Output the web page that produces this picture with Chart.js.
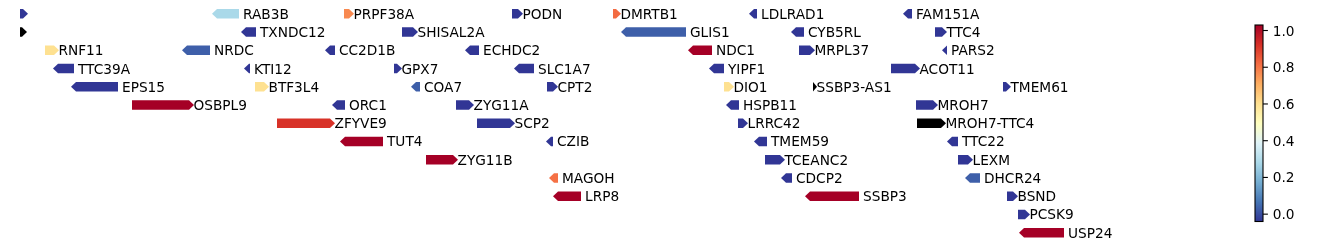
<!DOCTYPE html>
<html><head><meta charset="utf-8">
<script src="https://cdn.jsdelivr.net/npm/chart.js@4.4.1/dist/chart.umd.min.js"></script>
<style>html,body{margin:0;padding:0;background:#fff;overflow:hidden}</style>
</head><body><canvas id="c" width="1338" height="246"></canvas>
<script>
// ---- data ----
const ROW_LABELS = ['1','2','3','4','5','6','7','8','9','10','11','12','13'];
const GENE_NAMES = [
 '', 'RAB3B', 'PRPF38A', 'PODN', 'DMRTB1', 'LDLRAD1', 'FAM151A',
 '', 'TXNDC12', 'SHISAL2A', 'GLIS1', 'CYB5RL', 'TTC4',
 'RNF11', 'NRDC', 'CC2D1B', 'ECHDC2', 'NDC1', 'MRPL37', 'PARS2',
 'TTC39A', 'KTI12', 'GPX7', 'SLC1A7', 'YIPF1', 'ACOT11',
 'EPS15', 'BTF3L4', 'COA7', 'CPT2', 'DIO1', 'SSBP3-AS1', 'TMEM61',
 'OSBPL9', 'ORC1', 'ZYG11A', 'HSPB11', 'MROH7',
 'ZFYVE9', 'SCP2', 'LRRC42', 'MROH7-TTC4',
 'TUT4', 'CZIB', 'TMEM59', 'TTC22',
 'ZYG11B', 'TCEANC2', 'LEXM',
 'MAGOH', 'CDCP2', 'DHCR24',
 'LRP8', 'SSBP3', 'BSND',
 'PCSK9',
 'USP24'
];
const GENE_ROWS = [
 0,0,0,0,0,0,0,
 1,1,1,1,1,1,
 2,2,2,2,2,2,2,
 3,3,3,3,3,3,
 4,4,4,4,4,4,4,
 5,5,5,5,5,
 6,6,6,6,
 7,7,7,7,
 8,8,8,
 9,9,9,
 10,10,10,
 11,
 12
];
const GENE_STARTS = [
 20, 212, 344, 512, 613, 749, 903,
 20, 241, 402, 621, 791, 935,
 45, 182, 325, 465, 688, 799, 942,
 53, 244, 394, 514, 709, 891,
 71, 255, 411, 547, 724, 813, 1003,
 132, 332, 456, 726, 916,
 277, 477, 738, 917,
 340, 546, 754, 947,
 426, 765, 958,
 549, 781, 965,
 553, 805, 1007,
 1018,
 1019
];
const GENE_ENDS = [
 28, 239, 354, 523, 621, 757, 912,
 27, 256, 418, 686, 804, 947,
 59, 210, 335, 479, 712, 815, 947,
 74, 250, 402, 534, 724, 920,
 118, 269, 420, 558, 734, 817, 1011,
 194, 345, 474, 739, 938,
 335, 515, 748, 946,
 383, 553, 767, 958,
 458, 785, 973,
 558, 792, 980,
 581, 859, 1018,
 1030,
 1064
];
const GENE_STRANDS = [
 '+','-','+','+','+','-','-',
 '+','-','+','-','-','+',
 '+','-','-','-','-','+','-',
 '-','-','+','-','-','+',
 '-','+','-','+','+','+','+',
 '+','-','+','-','+',
 '+','+','+','+',
 '-','-','-','-',
 '+','+','+',
 '-','-','-',
 '-','-','+',
 '+',
 '-'
];
// null = no score (drawn black)
const GENE_SCORES = [
 -0.04, 0.28, 0.77, -0.04, 0.82, -0.04, -0.04,
 null, -0.04, -0.04, 0.03, -0.04, -0.04,
 0.60, 0.03, -0.04, -0.04, 1.03, -0.04, -0.04,
 -0.04, -0.04, -0.04, -0.04, -0.04, -0.04,
 -0.04, 0.60, 0.03, -0.04, 0.60, null, -0.04,
 1.03, -0.04, -0.04, -0.04, -0.04,
 0.92, -0.04, -0.04, null,
 1.03, -0.04, -0.04, -0.04,
 1.03, -0.04, -0.04,
 0.81, -0.04, 0.03,
 1.03, 1.03, -0.04,
 -0.04,
 1.03
];
const CB_MIN = -0.04, CB_MAX = 1.03;
const CB_TICKS = [0.0, 0.2, 0.4, 0.6, 0.8, 1.0];
const X_MIN = 0, X_MAX = 1263;

// ---- styling ----
const FONT_SIZE = 13.7;
const FONT = FONT_SIZE + 'px "DejaVu Sans"';
const HEAD_PX = 5;
const PAD_TOP = 4.7, PAD_BOTTOM = 4.2, PAD_RIGHT = 75, H = 246;
const CB_TOP_PX = 25, CB_BOTTOM_PX = 221.5, CB_WIDTH = 8;
const AREA_TOP = PAD_TOP, AREA_BOTTOM = H - PAD_BOTTOM;
const pxPerUnit = (CB_BOTTOM_PX - CB_TOP_PX) / (CB_MAX - CB_MIN);
const CB_SCALE_MAX = CB_MAX + (CB_TOP_PX - AREA_TOP) / pxPerUnit;
const CB_SCALE_MIN = CB_MIN - (AREA_BOTTOM - CB_BOTTOM_PX) / pxPerUnit;

const CMAP = ['#313695','#4575b4','#74add1','#abd9e9','#e0f3f8','#ffffbf','#fee090','#fdae61','#f46d43','#d73027','#a50026']
  .map(h => [parseInt(h.slice(1,3),16), parseInt(h.slice(3,5),16), parseInt(h.slice(5,7),16)]);
function cmap(v) {
  if (v === null || v === undefined) return '#000000';
  let t = (v - CB_MIN) / (CB_MAX - CB_MIN);
  t = Math.max(0, Math.min(1, t));
  const p = t * (CMAP.length - 1);
  const i = Math.min(Math.floor(p), CMAP.length - 2);
  const f = p - i;
  const c = CMAP[i].map((a, k) => Math.round(a + (CMAP[i+1][k] - a) * f));
  return `rgb(${c[0]},${c[1]},${c[2]})`;
}

const geneData = GENE_NAMES.map((n, i) => ({ x: [GENE_STARTS[i], GENE_ENDS[i]], y: ROW_LABELS[GENE_ROWS[i]] }));

const genePlugin = {
  id: 'genes',
  beforeDatasetDraw() { return false; },
  afterDatasetsDraw(chart) {
    const ctx = chart.ctx;
    const meta = chart.getDatasetMeta(0);
    ctx.save();
    meta.data.forEach((el, i) => {
      const { x, base, y, height } = el.getProps(['x', 'base', 'y', 'height'], true);
      const left = Math.min(x, base), right = Math.max(x, base);
      const h = height / 2, w = right - left, head = Math.min(HEAD_PX, w);
      ctx.fillStyle = el.options.backgroundColor;
      ctx.beginPath();
      if (GENE_STRANDS[i] === '+') {
        ctx.moveTo(left, y - h); ctx.lineTo(right - head, y - h); ctx.lineTo(right, y);
        ctx.lineTo(right - head, y + h); ctx.lineTo(left, y + h);
      } else {
        ctx.moveTo(right, y - h); ctx.lineTo(left + head, y - h); ctx.lineTo(left, y);
        ctx.lineTo(left + head, y + h); ctx.lineTo(right, y + h);
      }
      ctx.closePath(); ctx.fill();
      if (GENE_NAMES[i]) {
        ctx.fillStyle = '#000';
        ctx.font = FONT;
        ctx.textBaseline = 'alphabetic';
        ctx.textAlign = 'left';
        const tx = GENE_STRANDS[i] === '+' ? right - 0.5 : right + 4;
        ctx.fillText(GENE_NAMES[i], tx, y + 0.365 * FONT_SIZE);
      }
    });
    // colour bar, using the library's 'cb' scale for positions
    const cb = chart.scales.cb;
    const x1 = chart.chartArea.right, x0 = x1 - CB_WIDTH;
    const yTop = cb.getPixelForValue(CB_MAX), yBot = cb.getPixelForValue(CB_MIN);
    const g = ctx.createLinearGradient(0, yBot, 0, yTop);
    CMAP.forEach((c, k) => g.addColorStop(k / (CMAP.length - 1), `rgb(${c[0]},${c[1]},${c[2]})`));
    ctx.fillStyle = g;
    ctx.fillRect(x0, yTop, CB_WIDTH, yBot - yTop);
    ctx.strokeStyle = '#000'; ctx.lineWidth = 1.1;
    ctx.strokeRect(x0, yTop, CB_WIDTH, yBot - yTop);
    ctx.font = FONT; ctx.fillStyle = '#000';
    ctx.textAlign = 'left'; ctx.textBaseline = 'alphabetic';
    CB_TICKS.forEach(v => {
      const ty = cb.getPixelForValue(v);
      ctx.beginPath(); ctx.moveTo(x1, ty); ctx.lineTo(x1 + 4.9, ty); ctx.stroke();
      ctx.fillText(v.toFixed(1), x1 + 9.7, ty + 0.365 * FONT_SIZE);
    });
    ctx.restore();
  }
};

new Chart(document.getElementById('c'), {
  type: 'bar',
  data: {
    labels: ROW_LABELS,
    datasets: [{
      data: geneData,
      backgroundColor: ctx => cmap(GENE_SCORES[ctx.dataIndex]),
      barThickness: 9.6,
      borderWidth: 0
    }]
  },
  options: {
    indexAxis: 'y',
    responsive: false,
    animation: false,
    devicePixelRatio: 1,
    layout: { padding: { left: 0, right: PAD_RIGHT, top: PAD_TOP, bottom: PAD_BOTTOM } },
    plugins: { legend: { display: false }, tooltip: { enabled: false } },
    scales: {
      x: { type: 'linear', min: X_MIN, max: X_MAX, display: false },
      y: { type: 'category', display: false, offset: true },
      cb: {
        type: 'linear', axis: 'y', position: 'right', display: false, offset: false,
        min: CB_SCALE_MIN, max: CB_SCALE_MAX, bounds: 'data',
        afterBuildTicks: s => {
          s.min = CB_SCALE_MIN; s.max = CB_SCALE_MAX;
          s.ticks = CB_TICKS.map(v => ({ value: v }));
        }
      }
    }
  },
  plugins: [genePlugin]
});
</script>
</body></html>
